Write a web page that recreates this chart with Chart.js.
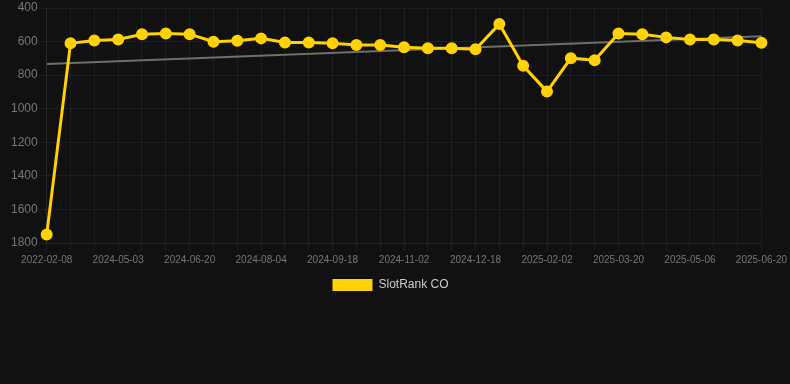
<!DOCTYPE html>
<html>
<head>
<meta charset="utf-8">
<script src="https://cdn.jsdelivr.net/npm/chart.js@4/dist/chart.umd.min.js"></script>
<style>
  html, body { margin: 0; padding: 0; background: #111111; }
  #wrap { width: 790px; height: 307px; }
</style>
</head>
<body>
<div id="wrap"><canvas id="rankLine"></canvas></div>
<script>
// dates (only every 3rd is shown on the axis)
const dates = [
  '2022-02-08','2024-04-03','2024-04-18','2024-05-03','2024-05-19','2024-06-04',
  '2024-06-20','2024-07-05','2024-07-20','2024-08-04','2024-08-19','2024-09-03',
  '2024-09-18','2024-10-03','2024-10-18','2024-11-02','2024-11-17','2024-12-03',
  '2024-12-18','2025-01-02','2025-01-18','2025-02-02','2025-02-17','2025-03-05',
  '2025-03-20','2025-04-04','2025-04-20','2025-05-06','2025-05-21','2025-06-05',
  '2025-06-20'
];
const rankCO = [
  1750, 610, 593, 587, 557, 552, 556, 601, 595, 581, 605,
  605, 610, 620, 620, 634, 640, 640, 646, 496, 744,
  898, 699, 711, 552, 556, 575, 587, 587, 593, 607
];
// trend line end points
const trendStart = 733;
const trendEnd = 569;

const tickColor = '#777';
const gridColor = 'rgba(255,255,255,0.05)';

new Chart(document.getElementById('rankLine'), {
  type: 'line',
  data: {
    labels: dates,
    datasets: [
      {
        label: 'SlotRank CO',
        data: rankCO,
        borderColor: '#ffd200',
        backgroundColor: '#ffd200',
        borderWidth: 3,
        pointRadius: 4.5,
        pointHoverRadius: 5,
        tension: 0,
        fill: false
      },
      {
        label: 'trend',
        data: [{ x: dates[0], y: trendStart }, { x: dates[dates.length - 1], y: trendEnd }],
        borderColor: '#6e6e6e',
        borderWidth: 2,
        pointRadius: 0,
        fill: false
      }
    ]
  },
  options: {
    responsive: true,
    maintainAspectRatio: false,
    animation: false,
    layout: { padding: { top: 0, right: 19, bottom: 6, left: 10 } },
    plugins: {
      legend: {
        position: 'bottom',
        labels: {
          color: '#ccc',
          font: { family: 'Arial, Liberation Sans', size: 12 },
          boxWidth: 40,
          boxHeight: 12,
          generateLabels: chart => {
            const items = Chart.defaults.plugins.legend.labels.generateLabels(chart);
            return items
              .filter(it => it.text !== 'trend')
              .map(it => Object.assign(it, { lineWidth: 0 }));
          }
        }
      },
      tooltip: { enabled: false }
    },
    scales: {
      x: {
        grid: { color: gridColor },
        border: { color: gridColor },
        ticks: {
          color: tickColor,
          font: { family: 'Arial, Liberation Sans', size: 10 },
          autoSkip: false,
          maxRotation: 0,
          callback: function(v, i){ return i % 3 === 0 ? this.getLabelForValue(v) : ''; }
        }
      },
      y: {
        reverse: true,
        min: 400,
        max: 1800,
        grid: { color: gridColor },
        border: { color: gridColor },
        ticks: {
          color: tickColor,
          stepSize: 200,
          padding: 1,
          font: { family: 'Arial, Liberation Sans', size: 12, lineHeight: 1 },
          callback: v => String(v)
        }
      }
    }
  }
});
</script>
</body>
</html>
